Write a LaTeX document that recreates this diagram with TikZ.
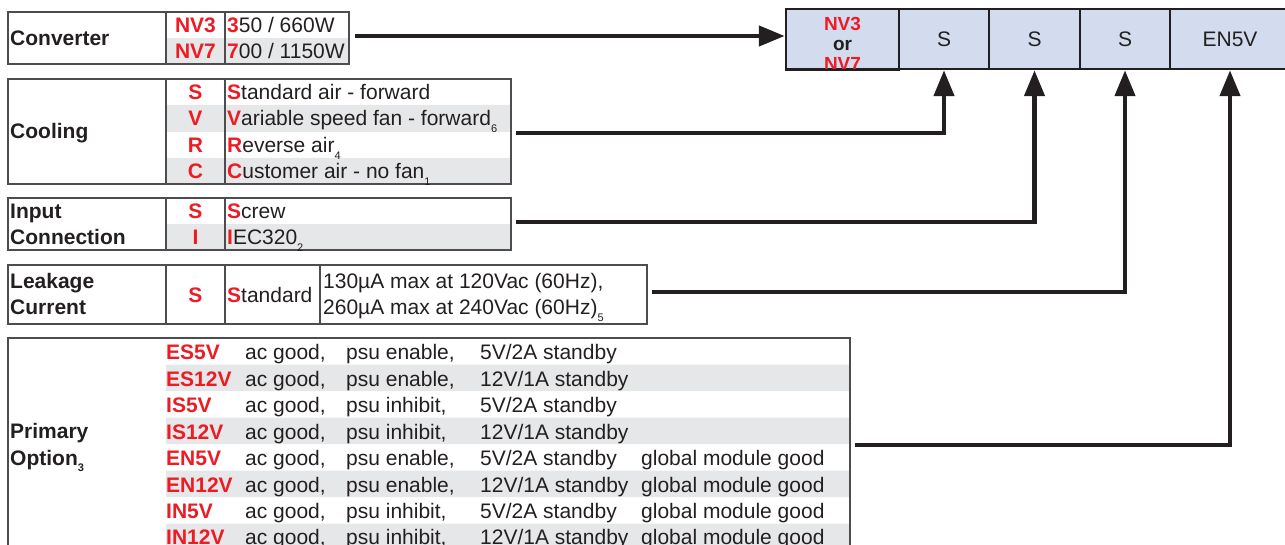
\documentclass[tikz,border=0pt]{standalone}
\usepackage{fontspec}
\setmainfont{Liberation Sans}
\usetikzlibrary{arrows.meta}
\definecolor{nred}{HTML}{ED1C24}
\definecolor{ink}{HTML}{231F20}
\definecolor{rowgray}{HTML}{E6E7E8}
\definecolor{cellblue}{HTML}{D3DCEE}
\definecolor{rulegray}{HTML}{4D4D4F}
\newcommand\code[1]{\textbf{\color{nred}#1}}
\newcommand\idx[1]{\raisebox{-.6ex}{\fontsize{11}{11}\selectfont#1}}
\tikzset{
	txt/.style={anchor=base west,inner sep=0pt,font=\fontsize{21}{23}\selectfont,text=ink},
	lab/.style={txt,font=\fontsize{21}{23}\selectfont\bfseries},
	key/.style={anchor=base,inner sep=0pt,font=\fontsize{21}{23}\selectfont\bfseries,text=nred},
	tab/.style={draw=rulegray,line width=1.2pt},
	cell/.style={draw=ink,line width=2.5pt,fill=cellblue,minimum height=60pt,inner sep=0pt,
		font=\fontsize{21}{23}\selectfont,text=ink},
	conn/.style={draw=ink,line width=4.5pt}
}
\begin{document}
\begin{tikzpicture}[x=1pt,y=-1pt,>={Triangle[length=26pt,width=20pt]}]
	\clip (0,0) rectangle (1285,545);

	% part number boxes
	\node[cell,minimum width=113pt] (c1) at (842.5,39) {};
	\begin{scope}
		\clip (c1.north west) rectangle (c1.south east);
		\node[align=center,inner sep=0pt,font=\fontsize{19}{20}\selectfont\bfseries] (c1txt) at (842.5,44)
			{\textcolor{nred}{NV3}\\\textcolor{ink}{or}\\\textcolor{nred}{NV7}};
	\end{scope}
	\draw[ink,line width=2.5pt] (c1.south west) -- (c1.south east);
	\node[cell,minimum width=90pt] (c2) at (944,39) {S};
	\node[cell,minimum width=91pt] (c3) at (1034.5,39) {S};
	\node[cell,minimum width=90pt] (c4) at (1125,39) {S};
	\node[cell,minimum width=120pt] (c5) at (1230,39) {EN5V};

	% converter
	\fill[rowgray] (166,38) rectangle (349,64);
	\draw[tab] (8,12) rectangle (349,64);
	\draw[tab] (166,12) -- (166,64) (225,12) -- (225,64);
	\node[lab] (conv) at (10,46) {Converter};
	\node[key] (nv3) at (195.5,33) {NV3};
	\node[key] (nv7) at (195.5,59) {NV7};
	\node[txt] (p350) at (227,33) {\code{3}50 / 660W};
	\node[txt] (p700) at (227,59) {\code{7}00 / 1150W};
	\coordinate (convout) at (355,36);

	% cooling
	\fill[rowgray] (166,105) rectangle (511,132) (166,158) rectangle (511,184);
	\draw[tab] (8,79) rectangle (511,184);
	\draw[tab] (166,79) -- (166,184) (225,79) -- (225,184);
	\node[lab] (cool) at (10,139) {Cooling};
	\node[key] (ks) at (195.5,100) {S};
	\node[key] (kv) at (195.5,126) {V};
	\node[key] (kr) at (195.5,153) {R};
	\node[key] (kc) at (195.5,179) {C};
	\node[txt] (std) at (227,100) {\code{S}tandard air - forward};
	\node[txt] (var) at (227,126) {\code{V}ariable speed fan - forward\idx{6}};
	\node[txt] (rev) at (227,153) {\code{R}everse air\idx{4}};
	\node[txt] (cus) at (227,179) {\code{C}ustomer air - no fan\idx{1}};
	\coordinate (coolout) at (516,133);

	% input connection
	\fill[rowgray] (166,224) rectangle (511,250);
	\draw[tab] (8,198) rectangle (511,250);
	\draw[tab] (166,198) -- (166,250) (225,198) -- (225,250);
	\node[lab] (inp) at (10,219) {Input};
	\node[lab] (conn) at (10,245) {Connection};
	\node[key] (is) at (195.5,219) {S};
	\node[key] (ii) at (195.5,245) {I};
	\node[txt] (scr) at (227,219) {\code{S}crew};
	\node[txt] (iec) at (227,245) {\code{I}EC320\idx{2}};
	\coordinate (inpout) at (516,222);

	% leakage current
	\draw[tab] (8,265) rectangle (647,324);
	\draw[tab] (166,265) -- (166,324) (225,265) -- (225,324) (320,265) -- (320,324);
	\node[lab] (leak) at (10,289) {Leakage};
	\node[lab] (curr) at (10,315) {Current};
	\node[key] (ls) at (195.5,303) {S};
	\node[txt] (lstd) at (227,303) {\code{S}tandard};
	\node[txt] (l120) at (323,289) {130µA max at 120Vac (60Hz),};
	\node[txt] (l240) at (323,315) {260µA max at 240Vac (60Hz)\idx{5}};
	\coordinate (leakout) at (652,292);

	% primary option
	\fill[rowgray] (166,364.5) rectangle (850,391) (166,417.5) rectangle (850,444)
		(166,470.5) rectangle (850,497) (166,523.5) rectangle (850,550);
	\draw[tab] (8,338) rectangle (850,560);
	\node[lab] (prim) at (10,438) {Primary};
	\node[lab] (opt) at (10,465) {Option\idx{3}};

	\node[key,anchor=base west] (es5) at (166,359) {ES5V};
	\node[txt] at (245,359) {ac good,};
	\node[txt] at (346,359) {psu enable,};
	\node[txt] at (480,359) {5V/2A standby};

	\node[key,anchor=base west] (es12) at (166,386) {ES12V};
	\node[txt] at (245,386) {ac good,};
	\node[txt] at (346,386) {psu enable,};
	\node[txt] at (480,386) {12V/1A standby};

	\node[key,anchor=base west] (is5) at (166,412) {IS5V};
	\node[txt] at (245,412) {ac good,};
	\node[txt] at (346,412) {psu inhibit,};
	\node[txt] at (480,412) {5V/2A standby};

	\node[key,anchor=base west] (is12) at (166,439) {IS12V};
	\node[txt] at (245,439) {ac good,};
	\node[txt] at (346,439) {psu inhibit,};
	\node[txt] at (480,439) {12V/1A standby};

	\node[key,anchor=base west] (en5) at (166,465) {EN5V};
	\node[txt] at (245,465) {ac good,};
	\node[txt] at (346,465) {psu enable,};
	\node[txt] at (480,465) {5V/2A standby};
	\node[txt] at (641,465) {global module good};

	\node[key,anchor=base west] (en12) at (166,492) {EN12V};
	\node[txt] at (245,492) {ac good,};
	\node[txt] at (346,492) {psu enable,};
	\node[txt] at (480,492) {12V/1A standby};
	\node[txt] at (641,492) {global module good};

	\node[key,anchor=base west] (in5) at (166,518) {IN5V};
	\node[txt] at (245,518) {ac good,};
	\node[txt] at (346,518) {psu inhibit,};
	\node[txt] at (480,518) {5V/2A standby};
	\node[txt] at (641,518) {global module good};

	\node[key,anchor=base west] (in12) at (166,544) {IN12V};
	\node[txt] at (245,544) {ac good,};
	\node[txt] at (346,544) {psu inhibit,};
	\node[txt] at (480,544) {12V/1A standby};
	\node[txt] at (641,544) {global module good};
	\coordinate (primout) at (855,445);

	% connectors
	\draw[conn,->] (convout) -- (convout -| c1.west);
	\draw[conn,->] (coolout) -| (c2.south);
	\draw[conn,->] (inpout) -| (c3.south);
	\draw[conn,->] (leakout) -| (c4.south);
	\draw[conn,->] (primout) -| (c5.south);
\end{tikzpicture}
\end{document}
